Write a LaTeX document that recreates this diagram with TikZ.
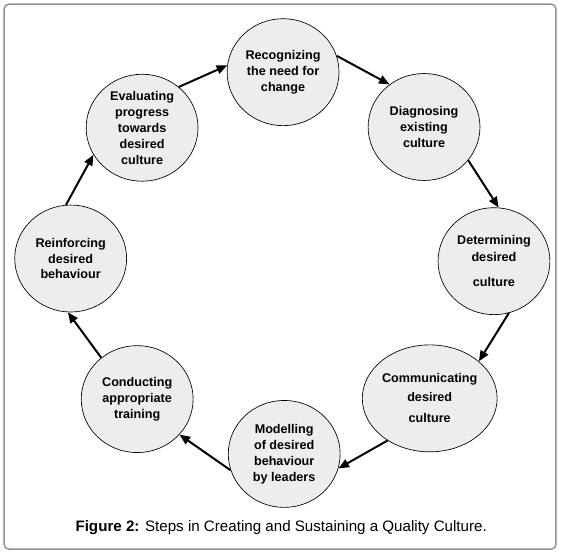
\documentclass[tikz,border=0pt]{standalone}
\usepackage{fontspec}
\setmainfont{Liberation Sans}
\usetikzlibrary{arrows.meta,shapes.geometric}

\definecolor{stagefill}{RGB}{237,237,237}
\definecolor{framegray}{RGB}{145,145,145}

\begin{document}
\begin{tikzpicture}[
    >={Triangle[length=8pt,width=6.5pt]},
    line join=round,
    flow/.style={->,line width=1.5pt,black},
    stage/.style={
        ellipse,
        draw=black,
        line width=0.5pt,
        fill=stagefill,
        inner sep=0pt,
        align=center,
        font=\fontsize{9.5}{12}\selectfont\bfseries,
        minimum width=2.96cm,
        minimum height=2.83cm
    },
    caption/.style={font=\fontsize{11.4}{14}\selectfont}
]
\useasboundingbox (-7.49,-7.67) rectangle (7.38,6.96);
\draw[framegray,line width=1.1pt,rounded corners=3.5pt] (-7.38,-7.57) rectangle (7.22,6.85);

% The cycle.
\node[stage] (recognize) at (0,5.05) {Recognizing\\the need for\\change};
\node[stage] (diagnose) at (3.73,3.6) {Diagnosing\\existing\\culture};
\node[stage] (determine) at (5.58,0.05) {Determining\\[1pt]desired\\[7pt]culture};
\node[stage] (communicate) at (3.88,-3.58) {Communicating\\[2pt]desired\\[4pt]culture};
\node[stage] (model) at (0.03,-5.05) {Modelling\\of desired\\behaviour\\by leaders};
\node[stage] (train) at (-3.86,-3.6) {Conducting\\appropriate\\training};
\node[stage] (reinforce) at (-5.62,0.12) {Reinforcing\\desired\\behaviour};
\node[stage] (evaluate) at (-3.73,3.58) {Evaluating\\progress\\towards\\desired\\culture};

\draw[flow] (evaluate.48) -- (recognize.173);
\draw[flow] (recognize.17) -- (diagnose.129);
\draw[flow] (diagnose.-37) -- (determine.85);
\draw[flow] (determine.-74) -- (communicate.37);
\draw[flow] (communicate.-135) -- (model.-15);
\draw[flow] (model.-163) -- (train.-40);
\draw[flow] (train.131) -- (reinforce.-93);
\draw[flow] (reinforce.95) -- (evaluate.209);

\node[caption] (caption) at (-0.05,-7.01) {\textbf{Figure 2:} Steps in Creating and Sustaining a Quality Culture.};

\end{tikzpicture}
\end{document}
